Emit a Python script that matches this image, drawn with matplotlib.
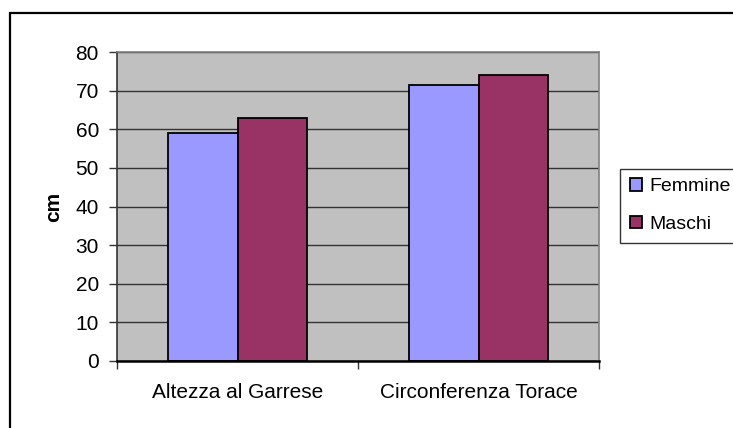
import matplotlib
matplotlib.use("Agg")
import matplotlib.pyplot as plt
from matplotlib.patches import Rectangle
import numpy as np

categories = ["Altezza al Garrese", "Circonferenza Torace"]
femmine = [59, 71.5]
maschi = [63, 74]
series_names = ["Femmine", "Maschi"]
yticks = [0, 10, 20, 30, 40, 50, 60, 70, 80]

plt.rcParams['font.family'] = ['Liberation Sans', 'DejaVu Sans']

W, H = 733, 428
fig = plt.figure(figsize=(W / 100, H / 100), dpi=100)
fig.patch.set_facecolor("white")

# outer frame
fig.patches.append(Rectangle((9.5 / W, -0.1), 1.2, (H - 13.5) / H + 0.1,
                             transform=fig.transFigure, fill=False,
                             edgecolor="black", linewidth=1.6, zorder=0))

left, right, top, bottom = 117, 599, 52, 361
ax = fig.add_axes([left / W, 1 - bottom / H, (right - left) / W, (bottom - top) / H])
ax.set_facecolor("#C0C0C0")

x = np.arange(len(categories))
bw = 0.29
ax.bar(x - bw / 2, femmine, bw, color="#9999FF", edgecolor="black",
       linewidth=1.3, label=series_names[0], zorder=3)
ax.bar(x + bw / 2, maschi, bw, color="#993366", edgecolor="black",
       linewidth=1.3, label=series_names[1], zorder=3)

ax.set_xlim(-0.5, len(categories) - 0.5)
ax.set_ylim(0, 80)
ax.set_yticks(yticks)
ax.yaxis.grid(True, color="#333333", linewidth=1.0, zorder=1)
ax.set_axisbelow(True)

ax.set_xticks(x)
ax.set_xticklabels(categories, fontsize=15)
ax.tick_params(axis="x", length=0, pad=16)
ax.set_xticks([-0.5, 0.5, 1.5], minor=True)
ax.tick_params(axis="x", which="minor", length=6, width=1, color="#333333", direction="out")
ax.tick_params(axis="y", labelsize=15, length=6, width=1, color="#333333", pad=7)

for s in ["top", "right"]:
    ax.spines[s].set_color("#808080")
    ax.spines[s].set_linewidth(1.2)
ax.spines["left"].set_color("#333333")
ax.spines["left"].set_linewidth(1.2)
ax.spines["bottom"].set_color("black")
ax.spines["bottom"].set_linewidth(1.8)
ax.spines["bottom"].set_zorder(4)

ax.set_ylabel("cm", fontsize=15, fontweight="bold", labelpad=9)

leg = fig.legend(loc="upper left", bbox_to_anchor=(620 / W, 1 - 168.5 / H),
                 fontsize=14, frameon=True, fancybox=False, edgecolor="black",
                 handlelength=0.62, handleheight=0.62, handletextpad=0.41,
                 borderpad=0.5, labelspacing=1.05, borderaxespad=0)
leg.get_frame().set_linewidth(1.0)

fig.savefig("out.png", dpi=100)
